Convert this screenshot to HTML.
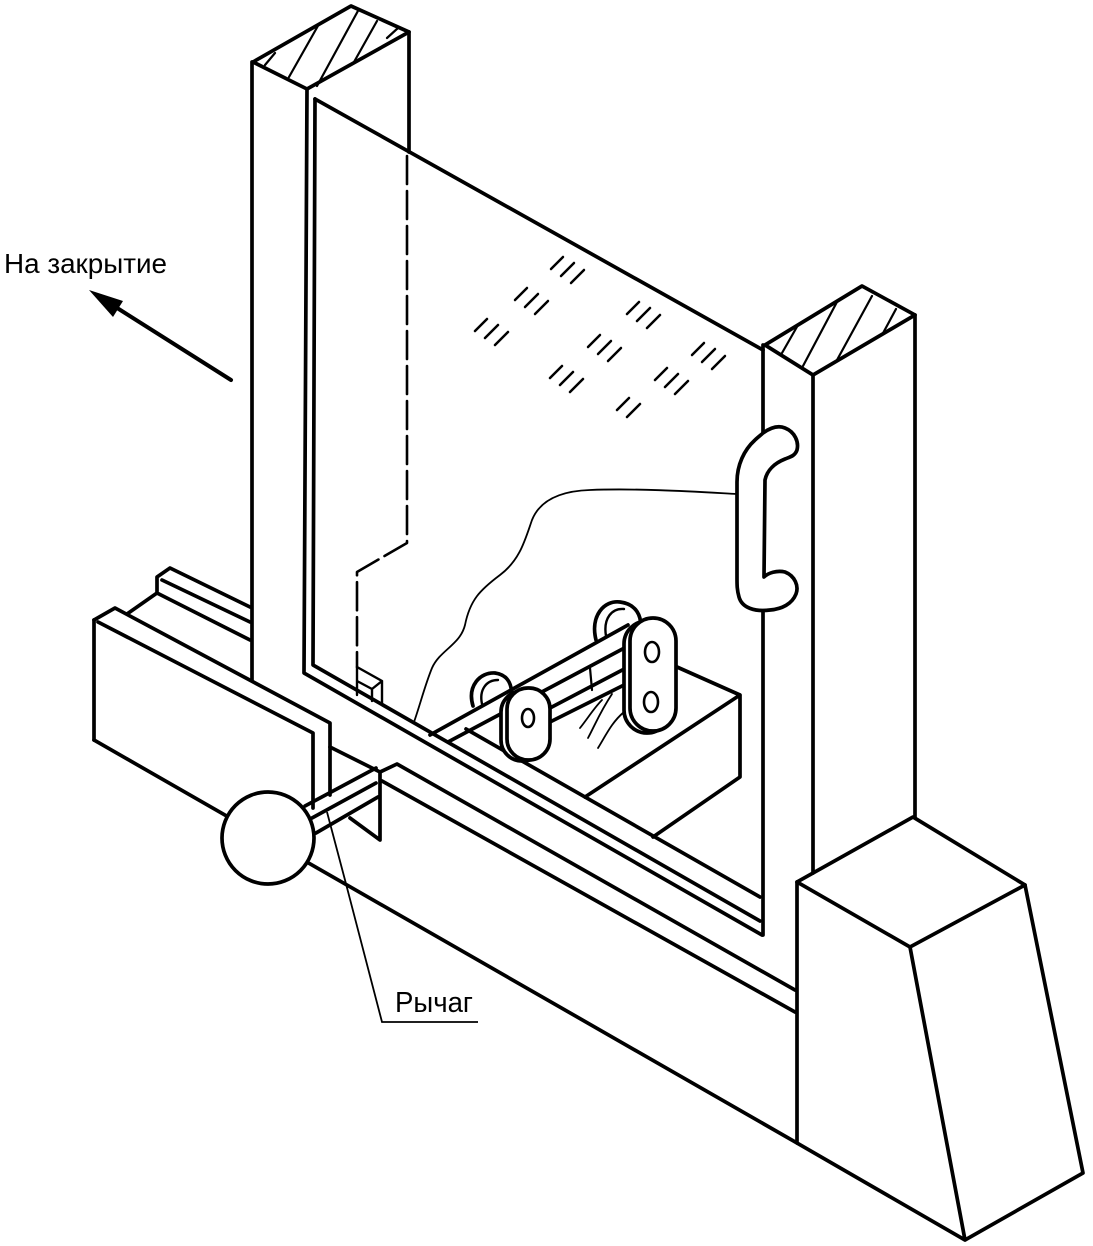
<!DOCTYPE html>
<html>
<head>
<meta charset="utf-8">
<style>
  html,body{margin:0;padding:0;background:#fff;}
  svg{display:block;}
  text{font-family:"Liberation Sans",Arial,sans-serif;fill:#000;}
</style>
</head>
<body>
<svg width="1093" height="1246" viewBox="0 0 1093 1246" xmlns="http://www.w3.org/2000/svg">
<rect width="1093" height="1246" fill="#fff"/>

<g fill="none" stroke="#000" stroke-width="3.7" stroke-linejoin="round" stroke-linecap="round">
  <!-- Left post -->
  <path d="M252,62 L252,680"/>
  <path d="M253,62 L351,6 L409,32 L307,89 Z"/>
  <path d="M409,32 L409,152"/>
  <path d="M307,89 L304,673 L762,935"/>
  <path d="M315,99 L313,665 L760,921"/>
  <!-- Glass top edge -->
  <path d="M315,99 L763,350"/>

  <!-- Right post -->
  <path d="M763,345 L763,433 M763,610 L763,935"/>
  <path d="M813,375 L813,873"/>
  <path d="M915,315 L915,817"/>
  <path d="M765,345 L862,286 L915,315 L813,375 Z"/>

  <!-- Right base block -->
  <path d="M797,882 L913,817 L1025,885 L910,947 Z"/>
  <path d="M797,882 L797,1143 L965,1240 L1083,1173 L1025,885 M910,947 L965,1240"/>

  <!-- Base rail -->
  <path d="M94,740 L797,1143"/>
  <path d="M94,620 L94,740"/>
  <path d="M94,620 L115,608 L330,723 L330,795"/>
  <path d="M98,622 L313,733 L313,808"/>
  <path d="M127,614 L157,593 L157,577 L170,568 L250,607 M162,580 L250,622 M157,593 L250,640"/>
  <path d="M330,747 L380,772 L397,764 L795,990"/>
  <path d="M380,772 L380,840 L350,818"/>
  <path d="M382,781 L795,1012"/>
  <!-- Lever rod -->
  <path d="M305,806 L376,768 M312,818 L376,783 M316,833 L378,797"/>

  <!-- Inner sill / glass frame line -->
  <path d="M466,729 L760,897"/>

  <!-- Box behind glass -->
  <path d="M677,667 L740,695 L740,777 L653,837 M740,695 L585,797"/>

  <!-- Back rod -->
  <path d="M550,708 L628,667 M550,722 L628,683"/>
  <path d="M590,668 L592,690" stroke-width="2.2"/>

  <!-- Rollers -->
  <path d="M596,640 C590,616 604,600 620,602 C636,604 643,616 640,632" fill="#fff"/>
  <path d="M606,636 C603,618 612,608 624,609" stroke-width="2.4"/>
  <path d="M473,706 C467,686 480,672 495,673 C509,675 513,686 511,700" fill="#fff"/>
  <path d="M482,704 C479,690 486,680 498,680" stroke-width="2.4"/>

  <!-- Front rod -->
  <path d="M430,735 L628,625 M448,742 L630,645"/>

  <!-- Left plate -->
  <rect x="501" y="691" width="43" height="70" rx="21" fill="#fff"/>
  <rect x="507" y="688" width="43" height="72" rx="21" fill="#fff"/>
  <ellipse cx="528" cy="718" rx="6" ry="9" stroke-width="2.6"/>

  <!-- Right plate -->
  <rect x="624" y="621" width="46" height="112" rx="23" fill="#fff"/>
  <rect x="630" y="618" width="46" height="113" rx="23" fill="#fff"/>
  <ellipse cx="652" cy="652" rx="7" ry="10" stroke-width="2.6"/>
  <ellipse cx="651" cy="702" rx="7" ry="10" stroke-width="2.6"/>

  <!-- Handle -->
  <path fill="#fff" d="M763,433 C770,428 778,425 785,428 C795,432 799,442 797,450 C795,456 790,457 785,459 C775,463 767,470 765,480 L764,577 C768,573 777,570 785,572 C795,576 799,586 796,594 C792,604 782,609 770,610 C755,612 742,608 739,597 C737,590 737,585 737,578 L737,482 C737,465 744,450 755,440 C758,437 761,435 763,433 Z"/>

  <!-- Lever knob -->
  <circle cx="268" cy="838" r="46" fill="#fff"/>
</g>

<!-- Dashed hidden line and small block -->
<g fill="none" stroke="#000" stroke-linecap="round" stroke-linejoin="round">
  <path d="M407,156 L407,543 L357,572 L357,667" stroke-width="2.6" stroke-dasharray="28 7"/>
  <path d="M357,667 L382,681 L382,703 M357,681 L372,689 L382,681 M372,689 L372,701 M357,667 L357,695" stroke-width="2.4"/>
</g>

<!-- Thin lines: wavy cord, squiggles, hatching -->
<g fill="none" stroke="#000" stroke-width="1.8" stroke-linecap="round" stroke-linejoin="round">
  <path d="M737,494 C700,492 640,488 590,490 C560,491 540,500 532,520 C525,540 520,560 500,575 C480,590 470,600 465,625 C460,645 440,650 432,668 C425,685 420,705 414,722"/>
  <path d="M588,738 C595,725 600,712 612,694"/>
  <path d="M598,748 C606,735 612,722 624,712"/>
  <path d="M580,728 C588,718 594,708 602,700"/>
</g>
<g fill="none" stroke="#000" stroke-width="2.2" stroke-linecap="round">
  <!-- left post top hatch -->
  <path d="M265,65 L275,53 M289,77 L319,24 M317,86 L359,9 M354,62 L377,21 M387,38 L398,28"/>
  <!-- right post top hatch -->
  <path d="M782,353 L798,325 M803,366 L838,300 M837,360 L872,296 M882,335 L896,309"/>
</g>

<!-- Glass reflection marks -->
<g fill="none" stroke="#000" stroke-width="2.5" stroke-linecap="round">
  <path d="M551,269 L563,257 M561,276 L574,263 M571,283 L584,270"/>
  <path d="M515,300 L527,288 M525,307 L538,294 M535,314 L548,301"/>
  <path d="M475,331 L487,319 M485,338 L498,325 M495,345 L508,332"/>
  <path d="M627,314 L639,302 M637,321 L650,308 M647,328 L660,315"/>
  <path d="M588,347 L600,335 M598,354 L611,341 M608,361 L621,348"/>
  <path d="M550,378 L562,366 M560,385 L573,372 M570,392 L583,379"/>
  <path d="M655,380 L667,368 M665,387 L678,374 M675,394 L688,381"/>
  <path d="M692,355 L704,343 M702,362 L715,349 M712,369 L725,356"/>
  <path d="M617,410 L629,398 M627,417 L640,404"/>
</g>

<!-- Arrow "На закрытие" -->
<g>
  <line x1="231" y1="380" x2="114" y2="306" stroke="#000" stroke-width="4" stroke-linecap="round"/>
  <polygon points="89,290 123,301 113,317" fill="#000"/>
</g>
<text x="4" y="273" font-size="28" textLength="163" lengthAdjust="spacingAndGlyphs">На закрытие</text>

<!-- Leader "Рычаг" -->
<path d="M327,812 L345,880 L382,1022 L478,1022" fill="none" stroke="#000" stroke-width="1.8"/>
<text x="395" y="1012" font-size="29" textLength="78" lengthAdjust="spacingAndGlyphs">Рычаг</text>
</svg>
</body>
</html>
